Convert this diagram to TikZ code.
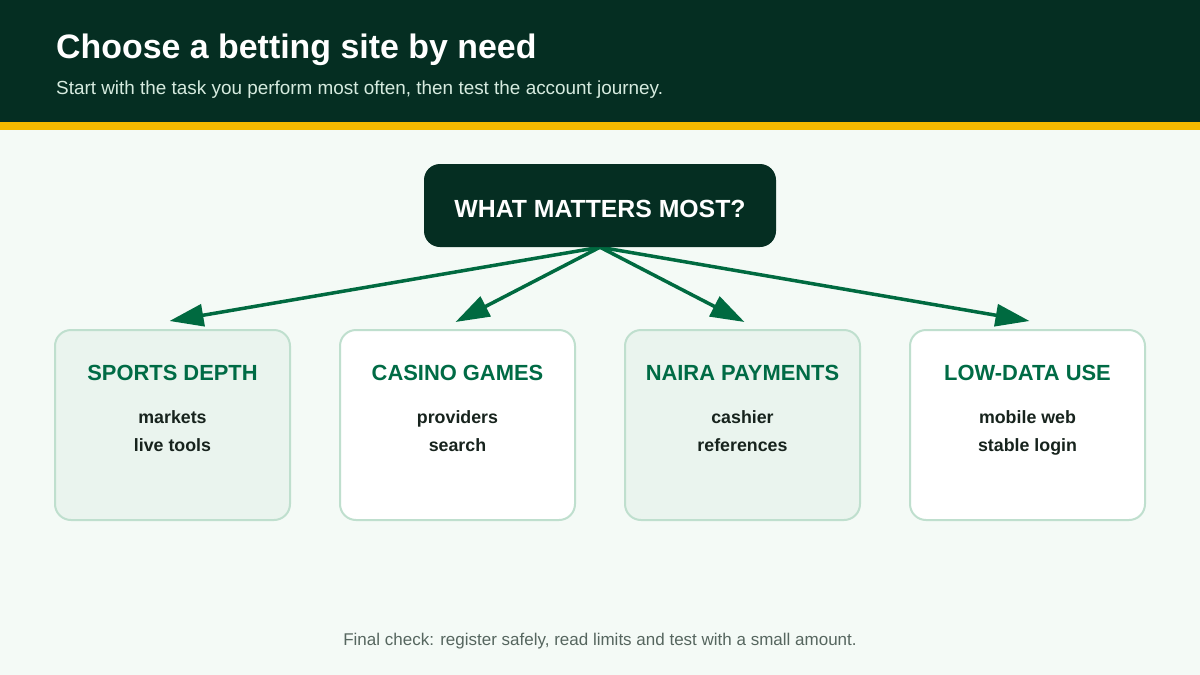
\documentclass[tikz,border=0pt]{standalone}
\usepackage{fontspec}
\setmainfont{Liberation Sans}
\usetikzlibrary{arrows.meta,calc}
\pgfdeclarelayer{background}
\pgfsetlayers{background,main}
\definecolor{hdr}{HTML}{052E22}
\definecolor{gold}{HTML}{F5BA00}
\definecolor{pagebg}{HTML}{F4FAF6}
\definecolor{subtxt}{HTML}{D6EBDF}
\definecolor{arrowc}{HTML}{006A40}
\definecolor{headc}{HTML}{006B45}
\definecolor{cardA}{HTML}{EAF4EE}
\definecolor{cardB}{HTML}{FFFFFF}
\definecolor{cardline}{HTML}{BFDFCE}
\definecolor{itemc}{HTML}{17231D}
\definecolor{footc}{HTML}{56665F}
\tikzset{
  card/.style={draw=cardline, line width=2pt, rounded corners=16pt, minimum width=235pt, minimum height=190pt, inner sep=0pt},
  cardhead/.style={anchor=base, text=headc, font=\bfseries\fontsize{21.9}{26}\selectfont, inner sep=0pt},
  carditem/.style={anchor=base, text=itemc, font=\bfseries\fontsize{17.8}{21}\selectfont, inner sep=0pt},
  arr/.style={draw=arrowc, line width=3.5pt, -{Triangle[length=34pt,width=22pt]}},
}
\begin{document}
\begin{tikzpicture}[x=1pt,y=-1pt]
\useasboundingbox (0,0) rectangle (1200,675);
\begin{pgfonlayer}{background}
\fill[pagebg] (0,0) rectangle (1200,675);
\fill[hdr] (0,0) rectangle (1200,122);
\fill[gold] (0,122) rectangle (1200,130);
\end{pgfonlayer}
\node[anchor=base west, inner sep=0pt, text=white, font=\bfseries\fontsize{33.9}{40}\selectfont] (title) at (56,58) {Choose a betting site by need};
\node[anchor=base west, inner sep=0pt, text=subtxt, font=\fontsize{18.9}{22}\selectfont] (sub) at (56,94) {Start with the task you perform most often, then test the account journey.};

\node[fill=hdr, rounded corners=16pt, minimum width=352pt, minimum height=83pt, inner sep=0pt] (top) at (600,205.5) {};
\node[anchor=base, inner sep=0pt, text=white, font=\bfseries\fontsize{24.8}{28}\selectfont] (toptxt) at (600,217) {WHAT MATTERS MOST?};

\node[card, fill=cardA] (b1) at (172.5,425) {};
\node[card, fill=cardB] (b2) at (457.5,425) {};
\node[card, fill=cardA] (b3) at (742.5,425) {};
\node[card, fill=cardB] (b4) at (1027.5,425) {};

\node[cardhead] (h1) at (172.5,380) {SPORTS DEPTH};
\node[carditem] (i1a) at (172.5,423) {markets};
\node[carditem] (i1b) at (172.5,451) {live tools};
\node[cardhead] (h2) at (457.5,380) {CASINO GAMES};
\node[carditem] (i2a) at (457.5,423) {providers};
\node[carditem] (i2b) at (457.5,451) {search};
\node[cardhead] (h3) at (742.5,380) {NAIRA PAYMENTS};
\node[carditem] (i3a) at (742.5,423) {cashier};
\node[carditem] (i3b) at (742.5,451) {references};
\node[cardhead] (h4) at (1027.5,380) {LOW-DATA USE};
\node[carditem] (i4a) at (1027.5,423) {mobile web};
\node[carditem] (i4b) at (1027.5,451) {stable login};

\begin{pgfonlayer}{background}
\draw[arr] (top.south) -- ($(b1.north)+(-3,-8)$);
\draw[arr] (top.south) -- ($(b2.north)+(-2,-7)$);
\draw[arr] (top.south) -- ($(b3.north)+(2,-7)$);
\draw[arr] (top.south) -- ($(b4.north)+(2,-8)$);
\end{pgfonlayer}

\node[anchor=base, inner sep=0pt, text=footc, font=\fontsize{17}{20}\selectfont] (foot) at (600,645) {Final check: register safely, read limits and test with a small amount.};
\end{tikzpicture}
\end{document}
